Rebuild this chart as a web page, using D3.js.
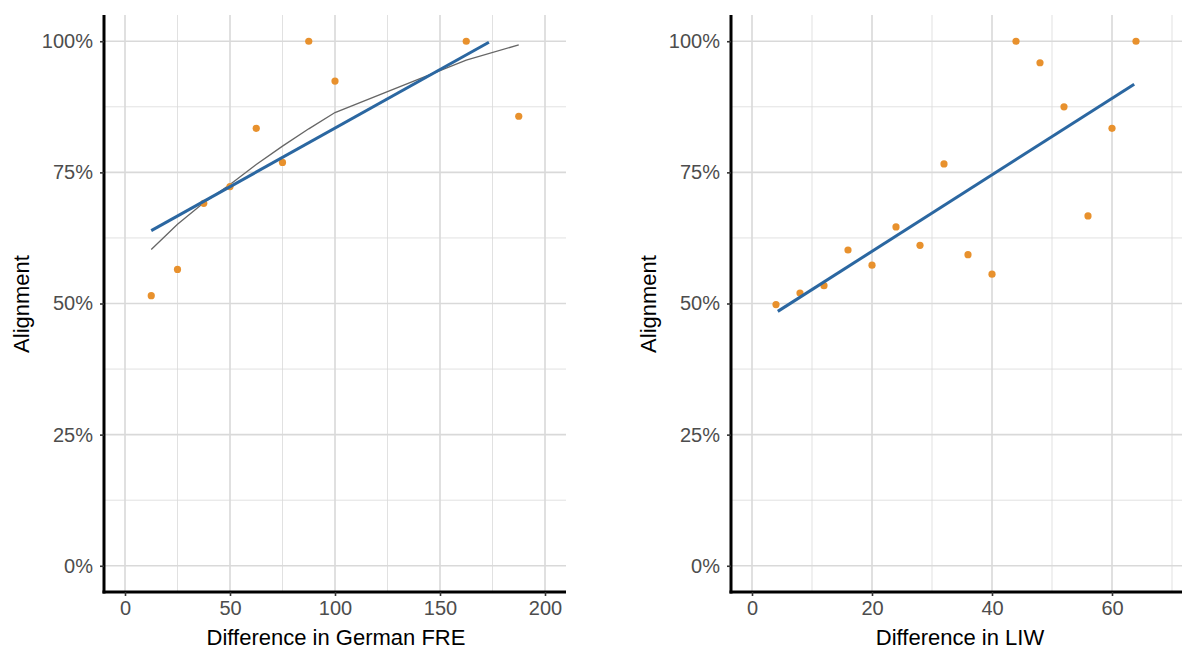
<!DOCTYPE html>
<html>
<head>
<meta charset="utf-8">
<script src="https://cdn.jsdelivr.net/npm/d3@7"></script>
<style>
  body { margin: 0; background: #fff; }
  svg { display: block; font-family: "Liberation Sans", Arial, sans-serif; }
</style>
</head>
<body>
<svg id="chart" width="1182" height="651"></svg>
<script>
// left panel: German FRE
const freX = [12.5, 25, 37.5, 50, 62.5, 75, 87.5, 100, 162.5, 187.5];
const freY = [0.515, 0.565, 0.691, 0.723, 0.834, 0.769, 1.0, 0.924, 1.0, 0.857];
const freLoessY = [0.603, 0.651, 0.692, 0.727, 0.765, 0.800, 0.833, 0.864, 0.964, 0.993];
const freLmX = [12.5, 173.3];
const freLmY = [0.639, 0.998];

// right panel: LIW
const liwX = [4, 8, 12, 16, 20, 24, 28, 32, 36, 40, 44, 48, 52, 56, 60, 64];
const liwY = [0.498, 0.520, 0.534, 0.602, 0.573, 0.646, 0.611, 0.766, 0.593, 0.556,
              1.0, 0.959, 0.875, 0.667, 0.834, 1.0];
const liwLmX = [4.3, 63.7];
const liwLmY = [0.485, 0.918];

const yTicks = [0, 0.25, 0.5, 0.75, 1];
const yMinor = [0.125, 0.375, 0.625, 0.875];

const styles = {
  grid: "#d9d9d9",
  point: "#e8912d",
  lm: "#2b67a1",
  loess: "#666666",
  tickText: "#4d4d4d"
};

const svg = d3.select("#chart");

function drawPanel(opts) {
  const g = svg.append("g");
  const x = d3.scaleLinear().domain(opts.xDomain).range([opts.left, opts.right]);
  const y = d3.scaleLinear().domain([-0.05, 1.05]).range([592, 15]);

  // grid
  g.selectAll(".xminor").data(opts.xMinor).enter().append("line")
    .attr("x1", d => x(d)).attr("x2", d => x(d))
    .attr("y1", y.range()[1]).attr("y2", y.range()[0])
    .attr("stroke", styles.grid).attr("stroke-width", 0.8);
  g.selectAll(".yminor").data(yMinor).enter().append("line")
    .attr("x1", opts.left).attr("x2", opts.right)
    .attr("y1", d => y(d)).attr("y2", d => y(d))
    .attr("stroke", styles.grid).attr("stroke-width", 0.8);
  g.selectAll(".xmajor").data(opts.xTicks).enter().append("line")
    .attr("x1", d => x(d)).attr("x2", d => x(d))
    .attr("y1", y.range()[1]).attr("y2", y.range()[0])
    .attr("stroke", styles.grid).attr("stroke-width", 1.6);
  g.selectAll(".ymajor").data(yTicks).enter().append("line")
    .attr("x1", opts.left).attr("x2", opts.right)
    .attr("y1", d => y(d)).attr("y2", d => y(d))
    .attr("stroke", styles.grid).attr("stroke-width", 1.6);

  // loess line (if any)
  if (opts.loessY) {
    const loessData = opts.xs.map((d, i) => [d, opts.loessY[i]]);
    g.append("path")
      .datum(loessData)
      .attr("fill", "none")
      .attr("stroke", styles.loess)
      .attr("stroke-width", 1.3)
      .attr("d", d3.line().x(d => x(d[0])).y(d => y(d[1])));
  }

  // points
  const pts = opts.xs.map((d, i) => [d, opts.ys[i]]);
  g.selectAll(".pt").data(pts).enter().append("circle")
    .attr("cx", d => x(d[0])).attr("cy", d => y(d[1]))
    .attr("r", 3.6)
    .attr("fill", styles.point);

  // lm line
  const lmData = opts.lmX.map((d, i) => [d, opts.lmY[i]]);
  g.append("path")
    .datum(lmData)
    .attr("fill", "none")
    .attr("stroke", styles.lm)
    .attr("stroke-width", 3)
    .attr("d", d3.line().x(d => x(d[0])).y(d => y(d[1])));

  // axes
  const xAxis = g.append("g")
    .attr("transform", "translate(0,592)")
    .call(d3.axisBottom(x).tickValues(opts.xTicks).tickSize(4).tickPadding(5).tickSizeOuter(0));
  const yAxis = g.append("g")
    .attr("transform", "translate(" + opts.left + ",0)")
    .call(d3.axisLeft(y).tickValues(yTicks).tickFormat(d3.format(".0%")).tickSize(4).tickPadding(7).tickSizeOuter(0));

  [xAxis, yAxis].forEach(a => {
    a.select(".domain").attr("stroke", "#000").attr("stroke-width", 3);
    a.selectAll(".tick line").attr("stroke", "#333").attr("stroke-width", 1.6);
    a.selectAll(".tick text").attr("fill", styles.tickText)
      .style("font-size", "20px").style("font-family", "Liberation Sans, Arial, sans-serif");
  });
  // extend x axis line to meet y axis
  xAxis.select(".domain").attr("d", "M" + (opts.left - 1.5) + ",0H" + opts.right);
  yAxis.select(".domain").attr("d", "M0,15V593.5");

  // titles
  g.append("text")
    .attr("x", (opts.left + opts.right) / 2 + opts.titleShift)
    .attr("y", 645)
    .attr("text-anchor", "middle")
    .style("font-size", "22px")
    .attr("fill", "#000")
    .text(opts.xTitle);
  g.append("text")
    .attr("transform", "translate(" + (opts.left - 75) + ",304) rotate(-90)")
    .attr("text-anchor", "middle")
    .style("font-size", "22px")
    .attr("fill", "#000")
    .text("Alignment");
}

drawPanel({
  xs: freX, ys: freY, loessY: freLoessY, lmX: freLmX, lmY: freLmY,
  xDomain: [-10, 210], left: 104, right: 566,
  xTicks: [0, 50, 100, 150, 200], xMinor: [25, 75, 125, 175],
  xTitle: "Difference in German FRE", titleShift: 1
});

drawPanel({
  xs: liwX, ys: liwY, loessY: null, lmX: liwLmX, lmY: liwLmY,
  xDomain: [-3.5, 73.5], left: 731, right: 1193,
  xTicks: [0, 20, 40, 60], xMinor: [10, 30, 50, 70],
  xTitle: "Difference in LIW", titleShift: -2
});
</script>
</body>
</html>
